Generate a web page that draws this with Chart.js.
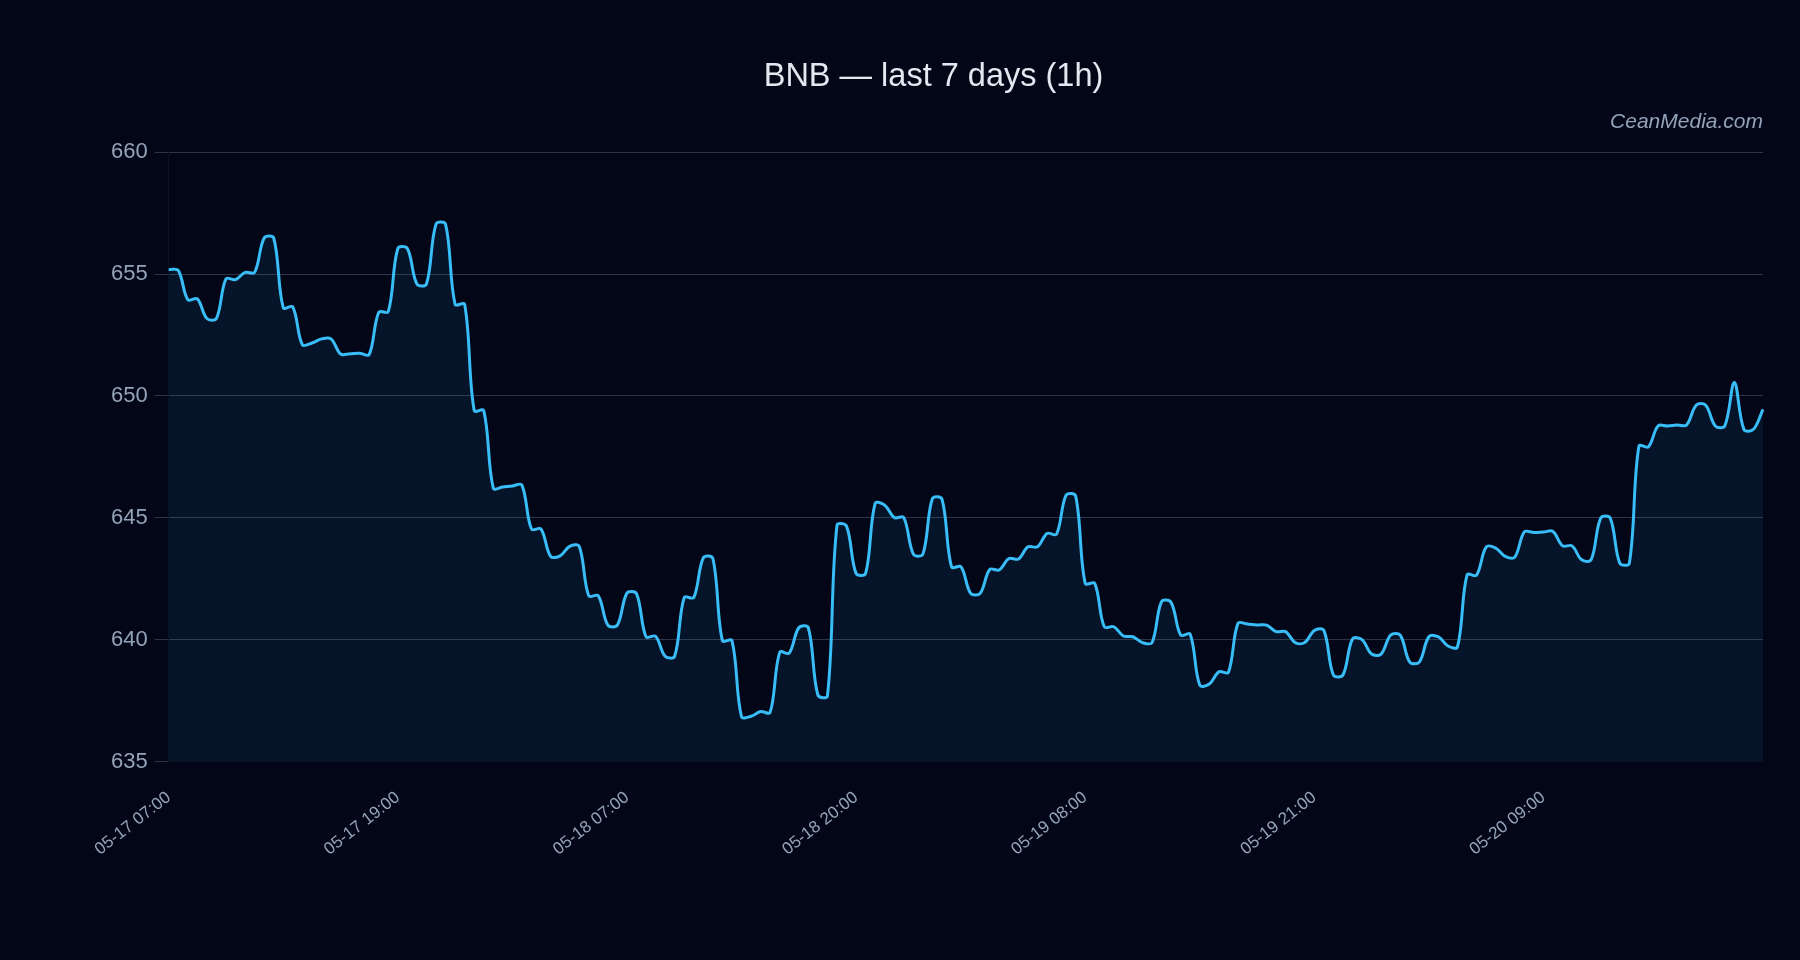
<!DOCTYPE html>
<html>
<head>
<meta charset="utf-8">
<title>BNB — last 7 days (1h)</title>
<script src="https://cdn.jsdelivr.net/npm/chart.js@4.4.1/dist/chart.umd.min.js"></script>
<style>
  html, body { margin: 0; padding: 0; background: #020617; }
  #wrap { width: 1800px; height: 960px; }
</style>
</head>
<body>
<div id="wrap"><canvas id="bnb"></canvas></div>
<script>
// hourly closes (168 points)
var prices = [
  655.19, 655.15, 653.95, 653.98, 653.18, 653.18, 654.80, 654.77, 655.07, 655.07,
  656.48, 656.48, 653.62, 653.65, 652.10, 652.17, 652.34, 652.34, 651.72, 651.73,
  651.75, 651.70, 653.43, 653.46, 656.05, 656.05, 654.59, 654.59, 657.05, 657.05,
  653.76, 653.76, 649.40, 649.40, 646.22, 646.26, 646.31, 646.34, 644.54, 644.54,
  643.42, 643.44, 643.83, 643.83, 641.80, 641.80, 640.60, 640.60, 641.91, 641.89,
  640.12, 640.14, 639.32, 639.32, 641.73, 641.73, 643.36, 643.33, 639.96, 639.96,
  636.84, 636.86, 637.05, 637.02, 639.48, 639.45, 640.49, 640.49, 637.73, 637.69,
  644.69, 644.66, 642.72, 642.72, 645.59, 645.52, 645.01, 645.01, 643.51, 643.51,
  645.79, 645.77, 642.99, 642.99, 641.90, 641.90, 642.88, 642.86, 643.33, 643.31,
  643.81, 643.81, 644.36, 644.33, 645.93, 645.90, 642.31, 642.31, 640.53, 640.53,
  640.15, 640.12, 639.88, 639.88, 641.56, 641.53, 640.19, 640.22, 638.14, 638.18,
  638.68, 638.66, 640.67, 640.64, 640.60, 640.60, 640.33, 640.33, 639.88, 639.88,
  640.38, 640.38, 638.55, 638.55, 640.03, 640.00, 639.41, 639.41, 640.19, 640.19,
  639.08, 639.08, 640.12, 640.12, 639.74, 639.71, 642.66, 642.65, 643.80, 643.76,
  643.42, 643.39, 644.42, 644.40, 644.42, 644.44, 643.85, 643.85, 643.28, 643.28,
  644.99, 644.99, 643.14, 643.14, 647.94, 647.91, 648.77, 648.77, 648.81, 648.81,
  649.62, 649.62, 648.77, 648.77, 650.55, 648.63, 648.63, 649.45
];

// labels shown on the x axis, one every 24 points
var tickLabels = ['05-17 07:00', '05-17 19:00', '05-18 07:00', '05-18 20:00',
                  '05-19 08:00', '05-19 21:00', '05-20 09:00'];
var labelEvery = 24;

var yMin = 635;
var yMax = 660;
var yStep = 5;

var labels = prices.map(function (v, i) {
  return (i % labelEvery === 0) ? tickLabels[i / labelEvery] : '';
});

var fontFamily = "'Liberation Sans', Arial, sans-serif";

var ctx = document.getElementById('bnb');
new Chart(ctx, {
  type: 'line',
  data: {
    labels: labels,
    datasets: [
      {
        label: 'BNB',
        data: prices,
        borderColor: '#38bdf8',
        backgroundColor: 'rgba(56, 189, 248, 0.08)',
        borderWidth: 3,
        pointRadius: 0,
        tension: 0.35,
        fill: 'start'
      }
    ]
  },
  options: {
    responsive: true,
    maintainAspectRatio: false,
    animation: false,
    layout: {
      padding: { top: 40, left: 104, right: 37, bottom: 74.5 }
    },
    plugins: {
      legend: { display: false },
      tooltip: { enabled: false },
      title: {
        display: true,
        text: 'BNB — last 7 days (1h)',
        color: '#e2e8f0',
        font: { family: fontFamily, size: 32.5, weight: 'normal' },
        padding: { top: 18, bottom: 10 }
      },
      subtitle: {
        display: true,
        text: 'CeanMedia.com',
        align: 'end',
        color: '#94a3b8',
        font: { family: fontFamily, size: 21, style: 'italic' },
        padding: { top: 3, bottom: 17 }
      }
    },
    scales: {
      x: {
        grid: { display: false, drawTicks: false },
        border: { color: '#0b1222' },
        ticks: {
          color: '#94a3b8',
          font: { family: fontFamily, size: 17 },
          minRotation: 38,
          maxRotation: 38,
          autoSkip: true,
          maxTicksLimit: 7,
          padding: 26
        }
      },
      y: {
        min: yMin,
        max: yMax,
        grid: {
          color: 'rgba(148, 163, 184, 0.3)',
          tickLength: 14
        },
        border: { color: '#0b1222' },
        ticks: {
          stepSize: yStep,
          color: '#94a3b8',
          font: { family: fontFamily, size: 22 },
          padding: 7
        }
      }
    }
  }
});
</script>
</body>
</html>
